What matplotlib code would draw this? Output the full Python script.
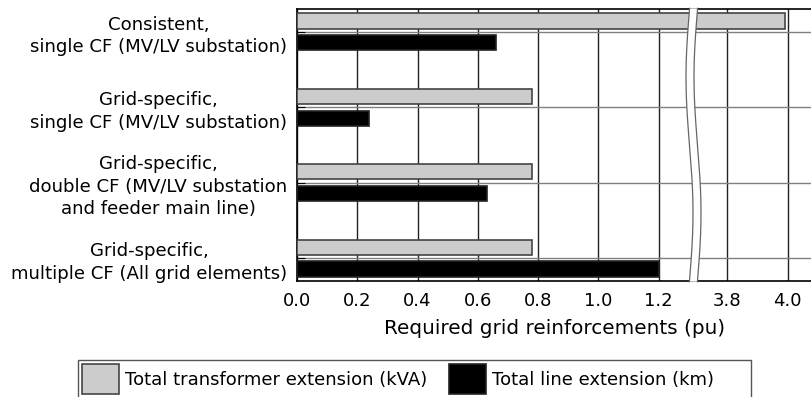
import numpy as np
import matplotlib.pyplot as plt
from matplotlib.patches import Polygon, Patch, Rectangle
from matplotlib.lines import Line2D

plt.rcParams['font.family'] = 'DejaVu Sans'
plt.rcParams['font.size'] = 13

categories = [
    "Consistent,\nsingle CF (MV/LV substation)",
    "Grid-specific,\nsingle CF (MV/LV substation)",
    "Grid-specific,\ndouble CF (MV/LV substation\nand feeder main line)",
    "Grid-specific,\nmultiple CF (All grid elements)",
]
transformer_ext = [3.99, 0.78, 0.78, 0.78]
line_ext = [0.66, 0.24, 0.63, 1.20]
left_ticks = [0.0, 0.2, 0.4, 0.6, 0.8, 1.0, 1.2]
right_ticks = [3.8, 4.0]

W, H = 812, 397
fig = plt.figure(figsize=(W / 100, H / 100), dpi=100)

# axes geometry in pixels
x0, xb, x1 = 297, 692, 812
y_top, y_bot = 9.3, 280.7
ppu = 301.5  # pixels per pu
bottom = 1 - y_bot / H
height = (y_bot - y_top) / H

ax1 = fig.add_axes([x0 / W, bottom, (xb - x0) / W, height])
ax2 = fig.add_axes([xb / W, bottom, (x1 - xb) / W, height])

y = np.arange(len(categories))
bh = 0.2
off = 0.145

for ax in (ax1, ax2):
    ax.barh(y - off, transformer_ext, height=bh, color='#cccccc',
            edgecolor='#444444', linewidth=1.2, zorder=3)
    ax.barh(y + off, line_ext, height=bh, color='black',
            edgecolor='#222222', linewidth=1.2, zorder=3)
    ax.set_ylim(3.3, -0.3)
    ax.set_yticks(y)
    ax.grid(axis='x', color='#222222', linewidth=1.0, zorder=1)
    ax.grid(axis='y', color='#808080', linewidth=1.0, zorder=1)
    ax.tick_params(axis='x', length=0, pad=8, labelsize=13)
    for s in ax.spines.values():
        s.set_linewidth(1.2)
        s.set_color('black')

ax1.set_xlim(0, (xb - x0) / ppu)
ax1.set_xticks(left_ticks)
ax1.set_xticklabels([f"{v:.1f}" for v in left_ticks])
ax1.set_yticklabels(categories, multialignment='center', fontsize=13.1,
                    linespacing=1.32)
ax1.tick_params(axis='y', direction='in', length=6, pad=7)
ax1.spines['right'].set_visible(False)

r0 = 3.8 - (727.5 - xb) / ppu
ax2.set_xlim(r0, r0 + (x1 - xb) / ppu)
ax2.set_xticks(right_ticks)
ax2.set_xticklabels([f"{v:.1f}" for v in right_ticks])
ax2.tick_params(axis='y', left=False, labelleft=False)
ax2.spines['left'].set_visible(False)
ax2.spines['right'].set_visible(False)

# wavy axis break
ys = np.linspace(y_top - 1, y_bot + 1, 200)
wave = -3.5 * np.sin(2 * np.pi * (ys - y_top) / (y_bot - y_top))
xl = 689.5 + wave
xr = 697.5 + wave
band = np.concatenate([np.column_stack([xl, ys]), np.column_stack([xr[::-1], ys[::-1]])])
band[:, 0] /= W
band[:, 1] = 1 - band[:, 1] / H
fig.add_artist(Polygon(band, closed=True, facecolor='white', edgecolor='none',
                       transform=fig.transFigure, zorder=10))
for xs in (xl, xr):
    fig.add_artist(Line2D(xs / W, 1 - ys / H, color='#666666', linewidth=0.9,
                          transform=fig.transFigure, zorder=11))

fig.text((x0 + x1) / 2 / W, 1 - 328 / H, "Required grid reinforcements (pu)",
         ha='center', va='center', fontsize=14.4)

handles = [
    Patch(facecolor='#cccccc', edgecolor='#444444', linewidth=1.2,
          label='Total transformer extension (kVA)'),
    Patch(facecolor='black', edgecolor='#222222', linewidth=1.2,
          label='Total line extension (km)'),
]
leg = fig.legend(handles=handles, ncol=2, loc='upper left',
                 bbox_to_anchor=(78 / W, 1 - 360 / H), frameon=False,
                 handlelength=2.05, handleheight=2.2, handletextpad=0.33,
                 columnspacing=1.2, borderpad=0.22, borderaxespad=0,
                 fontsize=13)

# legend frame
fig.add_artist(Rectangle((78 / W, -0.05), (751 - 78) / W, (1 - 360 / H) + 0.05,
                         transform=fig.transFigure, facecolor='none',
                         edgecolor='#555555', linewidth=1.0))

fig.savefig('out.png', dpi=100)
